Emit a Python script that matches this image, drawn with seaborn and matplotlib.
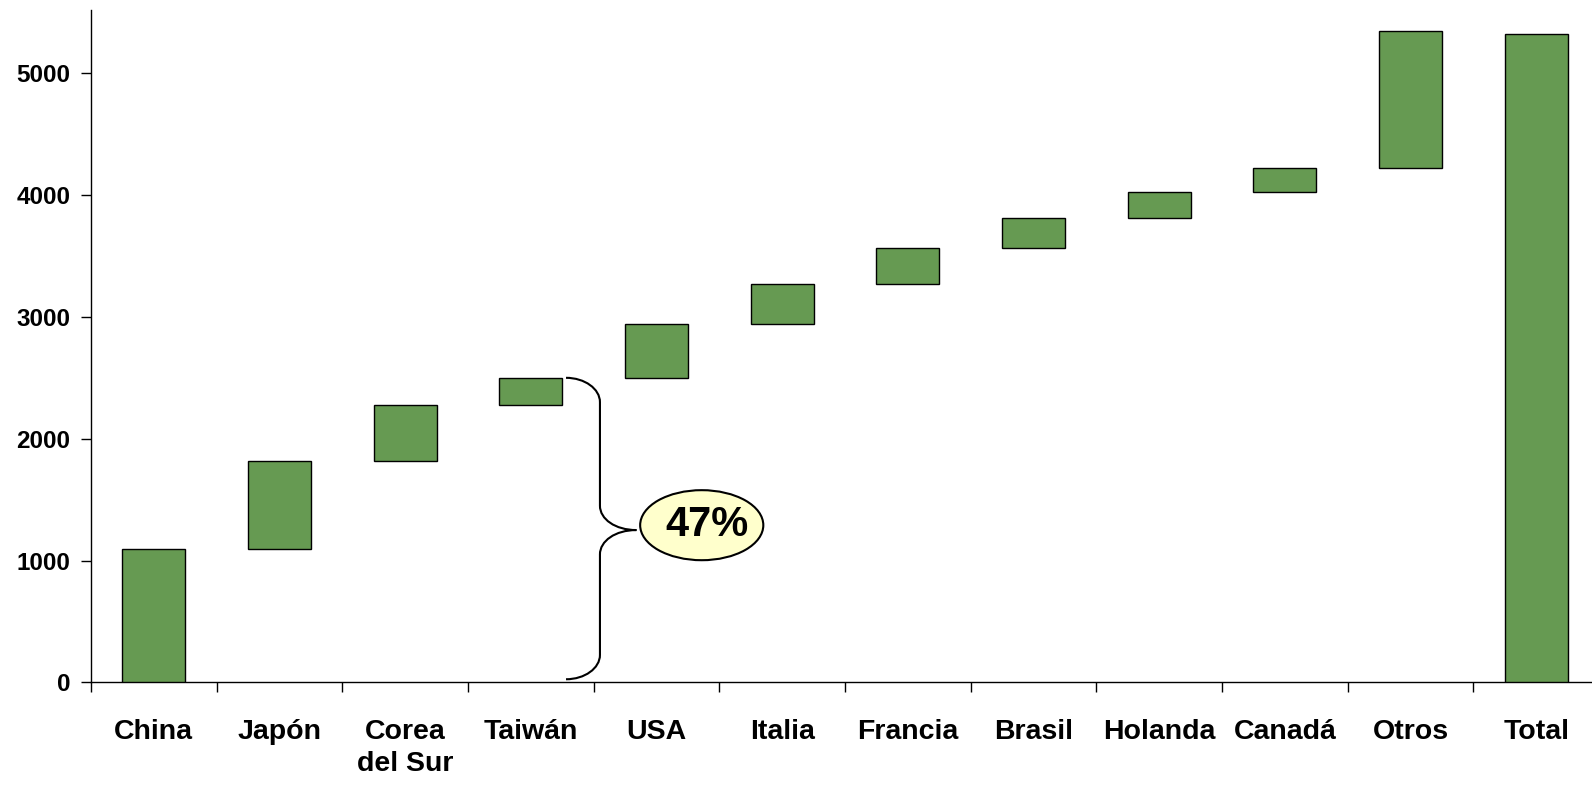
import numpy as np
import pandas as pd
import matplotlib
matplotlib.use("Agg")
import matplotlib.pyplot as plt
from matplotlib.path import Path
from matplotlib.patches import PathPatch, Ellipse
import seaborn as sns

# Waterfall data: contribution of each country, plus the reported total
categories = ["China", "Japón", "Corea\ndel Sur", "Taiwán", "USA", "Italia",
              "Francia", "Brasil", "Holanda", "Canadá", "Otros"]
increments = [1095, 720, 460, 225, 445, 325, 295, 250, 210, 195, 1130]
total_label = "Total"
total_value = 5320
share_label = "47%"
share_top = 2500          # cumulative value covered by the brace (first four)
y_ticks = [0, 1000, 2000, 3000, 4000, 5000]

ends = np.cumsum(increments)
starts = ends - np.array(increments)

df = pd.DataFrame({
    "pais": categories + [total_label],
    "valor": list(increments) + [total_value],
    "base": list(starts) + [0],
})

sns.set_style("ticks")
plt.rcParams["font.family"] = ["Liberation Sans", "DejaVu Sans"]
plt.rcParams["font.weight"] = "bold"
plt.rcParams["text.color"] = "black"
plt.rcParams["xtick.color"] = "black"
plt.rcParams["ytick.color"] = "black"
plt.rcParams["xtick.labelcolor"] = "black"
plt.rcParams["ytick.labelcolor"] = "black"

fig = plt.figure(figsize=(15.92, 7.85), dpi=100)
ax = fig.add_axes([91 / 1592, 1 - 682.3 / 785, 1508 / 1592, (682.3 - 10) / 785])

green = "#669A52"
sns.barplot(data=df, x="pais", y="valor", bottom=df["base"].values,
            color=green, saturation=1, width=0.5, errorbar=None,
            edgecolor="black", linewidth=1.0, ax=ax, zorder=3)

n = len(df)
ax.set_xlim(-0.5, n - 0.5)
ax.set_ylim(0, 5520)

# axes styling
for side in ["top", "right"]:
    ax.spines[side].set_visible(False)
for side in ["left", "bottom"]:
    ax.spines[side].set_color("black")
    ax.spines[side].set_linewidth(1.0)

ax.set_yticks(y_ticks)
ax.set_yticklabels([str(v) for v in y_ticks], fontsize=17.5, fontweight="bold")
ax.tick_params(axis="y", left=True, direction="out", length=7, width=1.0, pad=8,
               colors="black")

ax.set_xticks(np.arange(n))
ax.set_xticklabels(df["pais"], fontsize=20.5, fontweight="bold", linespacing=1.3)
ax.tick_params(axis="x", which="major", bottom=True, length=0, pad=26.5,
               labelcolor="black")
ax.set_xticks(np.arange(-0.5, n), minor=True)
ax.tick_params(axis="x", which="minor", bottom=True, direction="out", length=7,
               width=1.0, colors="black")
ax.set_xlabel("")
ax.set_ylabel("")
ax.grid(False)

# curly brace spanning the first four contributions
x0, xv, xt = 3.28, 3.55, 3.84
rx = xv - x0
ry = 200
ym = share_top / 2
yb, yt = 25, share_top
k = 0.55
verts = [
    (x0, yt),
    (x0 + rx * k, yt), (xv, yt - ry * (1 - k)), (xv, yt - ry),
    (xv, ym + ry),
    (xv, ym + ry * (1 - k)), (xv + rx * (1 - k), ym), (xt, ym),
    (xv + rx * (1 - k), ym), (xv, ym - ry * (1 - k)), (xv, ym - ry),
    (xv, yb + ry),
    (xv, yb + ry * (1 - k)), (x0 + rx * k, yb), (x0, yb),
]
codes = [Path.MOVETO,
         Path.CURVE4, Path.CURVE4, Path.CURVE4,
         Path.LINETO,
         Path.CURVE4, Path.CURVE4, Path.CURVE4,
         Path.CURVE4, Path.CURVE4, Path.CURVE4,
         Path.LINETO,
         Path.CURVE4, Path.CURVE4, Path.CURVE4]
ax.add_patch(PathPatch(Path(verts, codes), facecolor="none", edgecolor="black",
                       linewidth=1.5, zorder=4, clip_on=False))

# highlighted share label
ax.add_patch(Ellipse((4.36, 1290), width=0.98, height=575, facecolor="#FFFFCC",
                     edgecolor="black", linewidth=1.5, zorder=5))
ax.text(4.40, 1290, share_label, ha="center", va="center", fontsize=30,
        fontweight="bold", color="black", zorder=6)

fig.savefig("out.png", dpi=100)
